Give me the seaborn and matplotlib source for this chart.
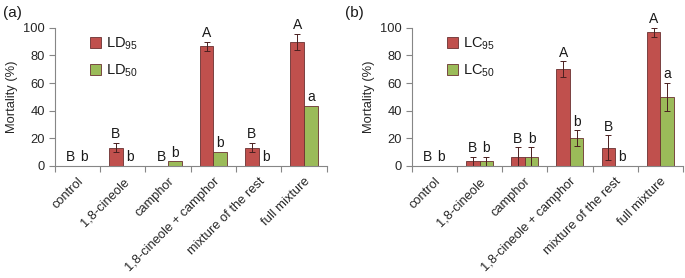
import numpy as np
import pandas as pd
import matplotlib
matplotlib.use('Agg')
import matplotlib.pyplot as plt
import seaborn as sns

# 數據
categories = ['control', '1,8-cineole', 'camphor', '1,8-cineole + camphor',
              'mixture of the rest', 'full mixture']

ld95 = [0, 13.3, 0, 86.7, 13.3, 90.0]
ld95_err = [0, 3.3, 0, 3.3, 3.3, 5.8]
ld50 = [0, 0, 3.3, 10.0, 0, 43.3]
ld50_err = [0, 0, 0, 0, 0, 0]
ld95_letters = ['B', 'B', 'B', 'A', 'B', 'A']
ld50_letters = ['b', 'b', 'b', 'b', 'b', 'a']

lc95 = [0, 3.3, 6.7, 70.0, 13.3, 96.7]
lc95_err = [0, 3.3, 6.7, 5.8, 8.8, 3.3]
lc50 = [0, 3.3, 6.7, 20.0, 0, 50.0]
lc50_err = [0, 3.3, 6.7, 5.8, 0, 10.0]
lc95_letters = ['B', 'B', 'B', 'A', 'B', 'A']
lc50_letters = ['b', 'b', 'b', 'b', 'b', 'a']

RED = '#C0504D'
GREEN = '#9BBB59'
AXIS = '#868686'

sns.set_style('white')
plt.rcParams['font.family'] = ['Liberation Sans', 'DejaVu Sans']
plt.rcParams['mathtext.fontset'] = 'custom'
plt.rcParams['mathtext.rm'] = 'Liberation Sans'
plt.rcParams['mathtext.it'] = 'Liberation Sans:italic'
plt.rcParams['text.color'] = '#1a1a1a'


def draw_panel(ax, hi, hi_err, lo, lo_err, hi_lab, lo_lab, name_hi, name_lo):
    df = pd.DataFrame({
        'category': categories * 2,
        'value': hi + lo,
        'series': [name_hi] * len(categories) + [name_lo] * len(categories),
    })
    sns.barplot(data=df, x='category', y='value', hue='series',
                order=categories, hue_order=[name_hi, name_lo],
                palette=[RED, GREEN], saturation=1, width=0.6, errorbar=None,
                edgecolor='#6b3030', linewidth=0.6, ax=ax)

    for cont, vals, errs, labs in zip(ax.containers, [hi, lo], [hi_err, lo_err],
                                      [hi_lab, lo_lab]):
        for bar, v, e, lab in zip(cont, vals, errs, labs):
            xc = bar.get_x() + bar.get_width() / 2
            if e > 0:
                ax.errorbar(xc, v, yerr=e, fmt='none', ecolor='#4a2020',
                            elinewidth=0.7, capsize=2, capthick=0.7)
            ax.text(xc, v + e + 1.2, lab, ha='center', va='bottom', fontsize=10)

    ax.set_ylim(0, 100)
    ax.set_xlim(-0.5, len(categories) - 0.5)
    ax.set_yticks([0, 20, 40, 60, 80, 100])
    ax.set_xlabel('')
    ax.set_ylabel('Mortality (%)', fontsize=9.3, labelpad=4)
    ax.set_xticks(range(len(categories)))
    ax.set_xticklabels(categories, rotation=45, ha='right',
                       rotation_mode='anchor', fontsize=9.3)
    ax.set_xticks(np.arange(-0.5, len(categories)), minor=True)
    ax.tick_params(axis='x', which='major', length=0, pad=7)
    ax.tick_params(axis='x', which='minor', length=4, color=AXIS, width=0.8,
                   bottom=True)
    ax.tick_params(axis='y', length=4, color=AXIS, width=0.8, left=True,
                   labelsize=9.3, pad=3)
    for s in ['top', 'right']:
        ax.spines[s].set_visible(False)
    for s in ['left', 'bottom']:
        ax.spines[s].set_color(AXIS)
        ax.spines[s].set_linewidth(0.8)

    ax.legend(loc='upper left', bbox_to_anchor=(0.08, 1.04), frameon=False,
              handlelength=0.8, handleheight=0.8, handletextpad=0.3,
              labelspacing=0.75, fontsize=10.5)
    return ax


fig = plt.figure(figsize=(6.85, 2.78), dpi=100)
ax1 = fig.add_axes([0.080, 0.403, 0.397, 0.497])
ax2 = fig.add_axes([0.601, 0.403, 0.396, 0.497])

draw_panel(ax1, ld95, ld95_err, ld50, ld50_err, ld95_letters, ld50_letters,
           'LD$_{95}$', 'LD$_{50}$')
draw_panel(ax2, lc95, lc95_err, lc50, lc50_err, lc95_letters, lc50_letters,
           'LC$_{95}$', 'LC$_{50}$')

fig.text(0.004, 0.955, '(a)', fontsize=11, va='center', ha='left')
fig.text(0.503, 0.955, '(b)', fontsize=11, va='center', ha='left')

fig.savefig('out.png', dpi=100)
